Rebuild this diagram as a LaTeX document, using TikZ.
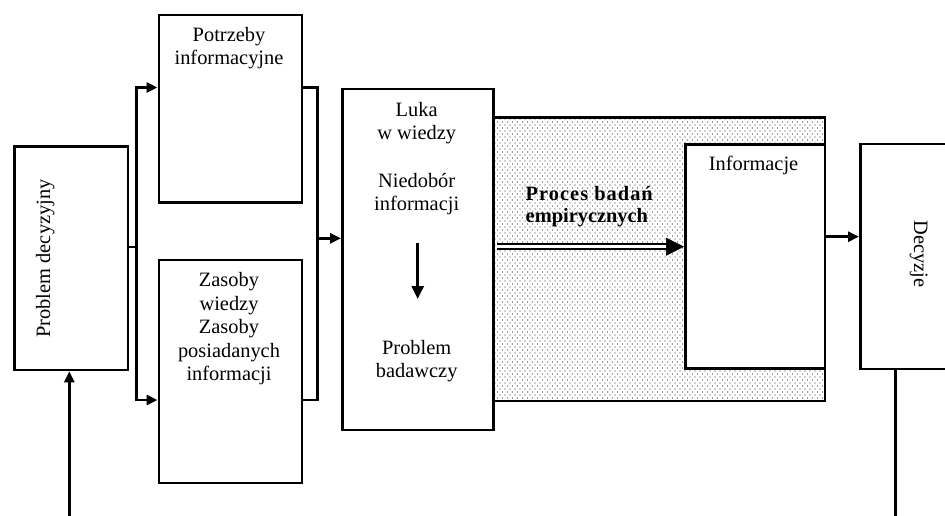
\documentclass[tikz,border=0pt]{standalone}
\usepackage{fontspec}
\setmainfont{Liberation Serif}
\usetikzlibrary{arrows.meta,calc,patterns}
\pgfdeclarepatternformonly{stipple}{\pgfqpoint{-1pt}{-1pt}}{\pgfqpoint{4pt}{5pt}}{\pgfqpoint{5pt}{6pt}}{%
  \pgfpathcircle{\pgfqpoint{0pt}{0pt}}{0.65pt}%
  \pgfpathcircle{\pgfqpoint{2.5pt}{3pt}}{0.65pt}%
  \pgfusepath{fill}}
\tikzset{
  box/.style={draw, line width=2.8pt, inner sep=0pt, anchor=north west, fill=white},
  conn/.style={line width=2.8pt, line join=miter},
  arr/.style={conn, -{Triangle[length=11pt,width=10pt]}},
  txt/.style={inner sep=0pt, align=center, font=\fontsize{20.4}{23.4}\selectfont},
}
\begin{document}
\begin{tikzpicture}[x=1pt,y=-1pt]
\path[use as bounding box, clip] (0,0) rectangle (945,515);
\fill[white] (0,0) rectangle (945,515);
% boxes
\node[box, minimum width=113.5pt, minimum height=223.5pt] (pd) at (13,145) {};
\node[box, minimum width=143pt, minimum height=187.5pt] (pot) at (157.5,13.5) {};
\node[box, minimum width=143pt, minimum height=223pt] (zas) at (157.5,258.5) {};
\node[box, fill=none, pattern=stipple, pattern color=black!75, minimum width=331.2pt, minimum height=283.5pt] (proc) at (492.3,116) {};
\node[box, minimum width=151.3pt, minimum height=341pt] (luka) at (341,87.5) {};
\node[box, minimum width=139.5pt, minimum height=224pt] (inf) at (684,143.3) {};
\node[box, minimum width=120pt, minimum height=225pt] (dec) at (859,142.5) {};
% texts
\node[txt, rotate=90, anchor=base] (tpd) at (50,258.5) {Problem decyzyjny};
\node[txt, anchor=north] (tpot) at (229,24.6) {\strut Potrzeby\\informacyjne};
\node[txt, anchor=north] (tzas) at (229,270.3) {\strut Zasoby\\wiedzy\\Zasoby\\posiadanych\\informacji};
\node[txt, anchor=north] (tluka) at (416.7,99.6) {\strut Luka\\w wiedzy};
\node[txt, anchor=north] (tnied) at (416.7,170.9) {\strut Niedobór\\informacji};
\node[txt, anchor=north] (tprob) at (416.7,337.9) {\strut Problem\\badawczy};
\node[txt, anchor=north] (tinf) at (753.5,154.3) {\strut Informacje};
\node[txt, anchor=north west, align=left, font=\fontsize{20.4}{21.6}\selectfont\bfseries] (tproc) at (525.5,185.6) {\strut{\addfontfeature{LetterSpace=5}Proces badań}\\empirycznych};
\node[txt, rotate=-90, anchor=base] (tdec) at (914,254) {Decyzje};
% connectors
\coordinate (j) at (136.5,247);
\coordinate (tl) at (136.5,87.5);
\coordinate (bl) at (136.5,400);
\coordinate (tr) at (317.5,87.5);
\coordinate (br) at (317.5,400);
\coordinate (mr) at (317.5,238.3);
\draw[conn] (pd.east |- j) -- (j);
\draw[conn, line cap=rect] (tl) -- (bl);
\draw[arr] (tl) -- (pot.west |- tl);
\draw[arr] (bl) -- (zas.west |- bl);
\draw[conn] (pot.east |- tr) -- (tr) -- (br) -- (zas.east |- br);
\draw[arr] (mr) -- (luka.west |- mr);
\coordinate (b1) at (69.3,520);
\draw[arr] (b1) -- (pd.south -| b1);
\coordinate (la1) at (417.7,243);
\coordinate (la2) at (417.7,299);
\draw[conn, -{Triangle[length=13pt,width=12pt]}] (la1) -- (la2);
\coordinate (ds) at (497,246.7);
\draw[double=white, line width=1.8pt, double distance=3pt] (ds) -- ($(inf.west |- ds)+(-15,0)$);
\draw[line width=0.5pt, -{Triangle[length=18pt,width=18pt]}] ($(inf.west |- ds)+(-18,0)$) -- (inf.west |- ds);
\coordinate (ia) at (823.5,236.7);
\draw[arr] (inf.east |- ia) -- (dec.west |- ia);
\coordinate (b2) at (895.5,520);
\draw[conn] (dec.south -| b2) -- (b2);
\end{tikzpicture}
\end{document}
